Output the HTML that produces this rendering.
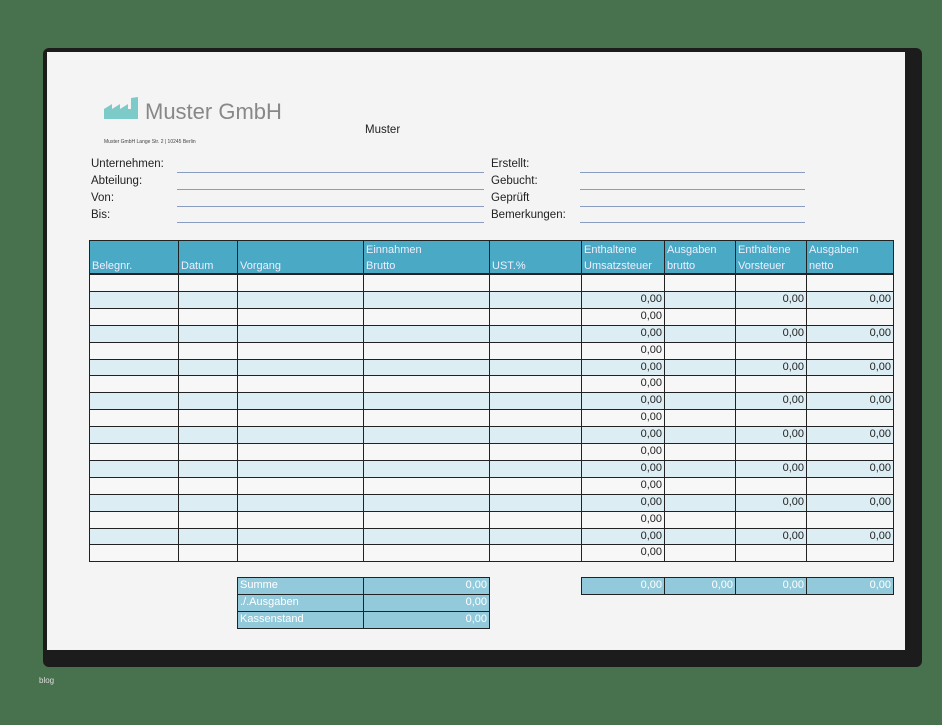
<!DOCTYPE html>
<html><head><meta charset="utf-8"><style>
body{margin:0;width:942px;height:725px;background:#48714d;position:relative;overflow:hidden;font-family:"Liberation Sans",sans-serif}
.a{position:absolute}
.frame{left:43px;top:48px;width:879px;height:619px;background:#1c1c1c;border-radius:6px}
.page{left:47px;top:52px;width:858px;height:598px;background:#f4f4f4}
.lbl{font-size:11.5px;color:#222}
.ln{height:1px;background:#8a9cc0}
.c{position:absolute;box-sizing:border-box;border:1px solid #222;font-size:11px;color:#222;padding:0 2px;line-height:15px;text-align:right}
.h{background:#4aa9c4;color:#eef;text-align:left;font-size:11px;line-height:16px;padding-top:1px}
.s{background:#93cadb;color:#fff}
</style></head><body>
<div class="a frame"></div>
<div class="a page"></div>
<svg class="a" style="left:104px;top:97px" width="36" height="23"><polygon points="0,22 0,12 8,7 8,12 16,7 16,12 24,7 24,12 27,12 27,1 34,0 34,22" fill="#7ccbc9"/></svg>
<div class="a" style="left:145px;top:99px;font-size:22px;color:#888">Muster GmbH</div>
<div class="a" style="left:104px;top:139px;font-size:5px;color:#444">Muster GmbH Lange Str. 2 | 10245 Berlin</div>
<div class="a lbl" style="left:365px;top:124px">Muster</div>
<div class="a lbl" style="left:91px;top:158px">Unternehmen:</div>
<div class="a lbl" style="left:91px;top:175px">Abteilung:</div>
<div class="a lbl" style="left:91px;top:192px">Von:</div>
<div class="a lbl" style="left:91px;top:209px">Bis:</div>
<div class="a lbl" style="left:491px;top:158px">Erstellt:</div>
<div class="a lbl" style="left:491px;top:175px">Gebucht:</div>
<div class="a lbl" style="left:491px;top:192px">Geprüft</div>
<div class="a lbl" style="left:491px;top:209px">Bemerkungen:</div>
<div class="a ln" style="left:177px;top:172px;width:307px"></div>
<div class="a ln" style="left:177px;top:189px;width:307px"></div>
<div class="a ln" style="left:177px;top:206px;width:307px"></div>
<div class="a ln" style="left:177px;top:222px;width:307px"></div>
<div class="a ln" style="left:580px;top:172px;width:225px"></div>
<div class="a ln" style="left:580px;top:189px;width:225px"></div>
<div class="a ln" style="left:580px;top:206px;width:225px"></div>
<div class="a ln" style="left:580px;top:222px;width:225px"></div>
<div id="t"></div>
<div class="a" style="left:39px;top:676px;font-size:8px;color:#ddd">blog</div>
<script>
var xs=[89,178,237,363,489,581,664,735,806,893];
var hd=["<br>Belegnr.","<br>Datum","<br>Vorgang","Einnahmen<br>Brutto","<br>UST.%","Enthaltene<br>Umsatzsteuer","Ausgaben<br>brutto","Enthaltene<br>Vorsteuer","Ausgaben<br>netto"];
var h="";
for(var i=0;i<9;i++)h+='<div class="c h" style="left:'+xs[i]+'px;top:240px;width:'+(xs[i+1]-xs[i]+1)+'px;height:34px">'+hd[i]+'</div>';
for(var r=0;r<17;r++){var y=274+r*16.9;var blue=r%2==1;
for(var i=0;i<9;i++){var v="";if(r>0){if(i==5)v="0,00";if(blue&&(i==7||i==8))v="0,00";}
h+='<div class="c" style="left:'+xs[i]+'px;top:'+y+'px;width:'+(xs[i+1]-xs[i]+1)+'px;height:18px;background:'+(blue?'#dcedf3':'#f7f7f7')+'">'+v+'</div>';}}
var sl=["Summe","./.Ausgaben","Kassenstand"];
for(var r=0;r<3;r++){var y=577+r*17;
h+='<div class="c s" style="left:237px;top:'+y+'px;width:127px;height:18px;text-align:left">'+sl[r]+'</div>';
h+='<div class="c s" style="left:363px;top:'+y+'px;width:127px;height:18px">0,00</div>';}
for(var i=5;i<9;i++)h+='<div class="c s" style="left:'+xs[i]+'px;top:577px;width:'+(xs[i+1]-xs[i]+1)+'px;height:18px">0,00</div>';
document.getElementById("t").innerHTML=h;
</script>
</body></html>
